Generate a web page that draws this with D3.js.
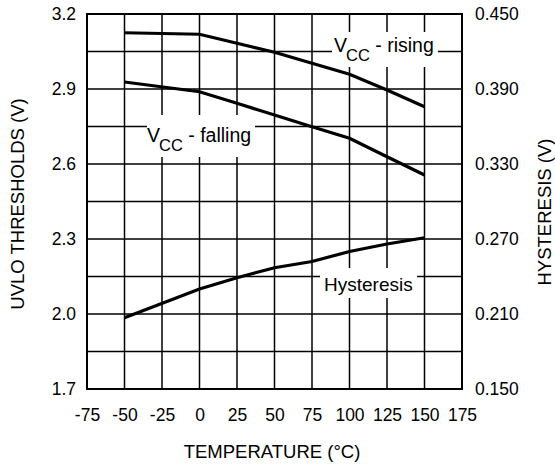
<!DOCTYPE html>
<html lang="en">
<head>
  <meta charset="UTF-8">
  <script src="https://d3js.org/d3.v7.min.js"></script>
  <title>UVLO thresholds vs temperature</title>
  <style>
    body { margin: 0; background: #fff; }
    text { font-family: "Liberation Sans", Arial, sans-serif; fill: #000; }
  </style>
</head>
<body>
  <svg id="chart" width="555" height="466"></svg>
  <script>
    // data
    const temps = [-50, 0, 25, 50, 75, 100, 125, 150];
    const vccRising = [3.125, 3.119, 3.083, 3.047, 3.003, 2.959, 2.896, 2.829];
    const vccFalling = [2.928, 2.889, 2.843, 2.796, 2.749, 2.703, 2.629, 2.556];
    const hysteresis = [0.207, 0.230, 0.239, 0.247, 0.252, 0.260, 0.266, 0.271];

    const xTicks = [-75, -50, -25, 0, 25, 50, 75, 100, 125, 150, 175];
    const leftTicks = [1.7, 2.0, 2.3, 2.6, 2.9, 3.2];
    const rightTicks = [0.15, 0.21, 0.27, 0.33, 0.39, 0.45];
    const hGrid = d3.range(0, 11).map(i => 1.7 + i * 0.15);

    const plotL = 87, plotR = 462, plotT = 14, plotB = 389;

    const svg = d3.select("#chart");
    const x = d3.scaleLinear().domain([-75, 175]).range([plotL, plotR]);
    const yL = d3.scaleLinear().domain([1.7, 3.2]).range([plotB, plotT]);
    const yR = d3.scaleLinear().domain([0.15, 0.45]).range([plotB, plotT]);

    // grid
    svg.append("g")
      .selectAll("line")
      .data(xTicks)
      .join("line")
      .attr("x1", d => x(d)).attr("x2", d => x(d))
      .attr("y1", plotT).attr("y2", plotB)
      .attr("stroke", "#000").attr("stroke-width", 1.5);

    svg.append("g")
      .selectAll("line")
      .data(hGrid)
      .join("line")
      .attr("x1", plotL).attr("x2", plotR)
      .attr("y1", d => yL(d)).attr("y2", d => yL(d))
      .attr("stroke", "#000").attr("stroke-width", 1.5);

    // white boxes behind labels break the grid
    const boxes = [
      { x: 332, y: 32, w: 106, h: 35 },
      { x: 147, y: 115, w: 108, h: 42 },
      { x: 320, y: 268, w: 97, h: 30 }
    ];
    svg.append("g")
      .selectAll("rect")
      .data(boxes)
      .join("rect")
      .attr("x", d => d.x).attr("y", d => d.y)
      .attr("width", d => d.w).attr("height", d => d.h)
      .attr("fill", "#fff");

    // frame
    svg.append("rect")
      .attr("x", plotL).attr("y", plotT)
      .attr("width", plotR - plotL).attr("height", plotB - plotT)
      .attr("fill", "none").attr("stroke", "#000").attr("stroke-width", 2);

    // curves
    const lineL = d3.line().x((d, i) => x(temps[i])).y(d => yL(d));
    const lineR = d3.line().x((d, i) => x(temps[i])).y(d => yR(d));

    [vccRising, vccFalling].forEach(s => {
      svg.append("path")
        .attr("d", lineL(s))
        .attr("fill", "none").attr("stroke", "#000").attr("stroke-width", 3.2);
    });
    svg.append("path")
      .attr("d", lineR(hysteresis))
      .attr("fill", "none").attr("stroke", "#000").attr("stroke-width", 3.2);

    // axes (plain hyphen for negatives, like the original)
    const axLeft = svg.append("g")
      .attr("transform", `translate(${plotL},0)`)
      .call(d3.axisLeft(yL).tickValues(leftTicks).tickFormat(d => d.toFixed(1)).tickSize(0).tickPadding(11));
    const axRight = svg.append("g")
      .attr("transform", `translate(${plotR},0)`)
      .call(d3.axisRight(yR).tickValues(rightTicks).tickFormat(d => d.toFixed(3)).tickSize(0).tickPadding(13));
    const axBottom = svg.append("g")
      .attr("transform", `translate(0,${plotB})`)
      .call(d3.axisBottom(x).tickValues(xTicks).tickFormat(d => String(d)).tickSize(0).tickPadding(20));
    [axLeft, axRight, axBottom].forEach(a => {
      a.select(".domain").remove();
      a.selectAll("text").attr("font-size", 17.5).attr("font-family", "Liberation Sans, Arial, sans-serif").attr("fill", "#000");
    });

    // titles
    svg.append("text")
      .attr("x", 272).attr("y", 458)
      .attr("text-anchor", "middle").attr("font-size", 18.5)
      .text("TEMPERATURE (°C)");
    svg.append("text")
      .attr("transform", "translate(24,204) rotate(-90)")
      .attr("text-anchor", "middle").attr("font-size", 18.5)
      .text("UVLO THRESHOLDS (V)");
    svg.append("text")
      .attr("transform", "translate(551,212) rotate(-90)")
      .attr("text-anchor", "middle").attr("font-size", 18.5)
      .text("HYSTERESIS (V)");

    // series labels
    const vccLabel = (tx, ty, rest) => {
      const t = svg.append("text").attr("x", tx).attr("y", ty).attr("font-size", 19.5);
      t.append("tspan").text("V");
      t.append("tspan").attr("font-size", 16.5).attr("dy", 9).attr("dx", -1).text("CC");
      t.append("tspan").attr("dy", -9).text(" - " + rest);
    };
    vccLabel(334, 52, "rising");
    vccLabel(147, 142, "falling");
    svg.append("text")
      .attr("x", 324).attr("y", 291).attr("font-size", 19)
      .text("Hysteresis");
  </script>
</body>
</html>
